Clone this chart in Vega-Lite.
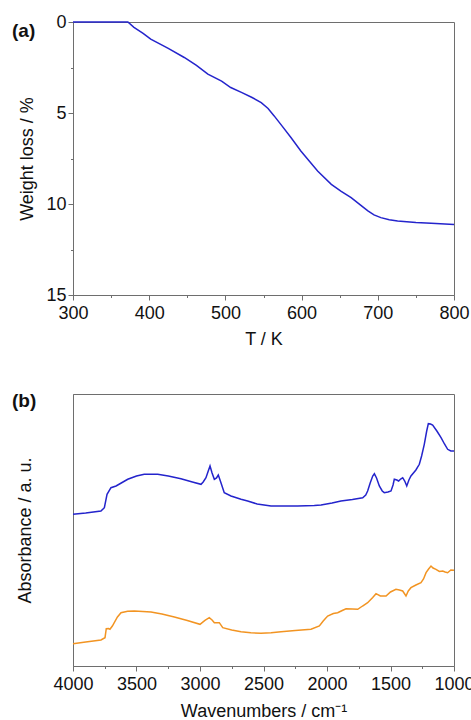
{
  "$schema": "https://vega.github.io/schema/vega-lite/v6.json",
  "padding": {"left": 11, "top": 12, "right": 0, "bottom": 0},
  "spacing": 42,
  "config": {
    "font": "Liberation Sans",
    "view": {"stroke": "#6e6e6e", "strokeWidth": 1},
    "axis": {
      "domainColor": "#6e6e6e",
      "tickColor": "#6e6e6e",
      "labelColor": "#111111",
      "titleColor": "#111111",
      "labelFont": "Liberation Sans",
      "titleFont": "Liberation Sans",
      "labelFontSize": 18,
      "titleFontSize": 18,
      "titleFontWeight": "normal",
      "grid": false,
      "labelFlush": false,
      "labelOverlap": false
    },
    "title": {"font": "Liberation Sans", "fontSize": 19, "fontWeight": "bold", "anchor": "start", "frame": "group", "baseline": "middle", "color": "#111111"}
  },
  "datasets": {
    "tga": [
      {"T": 300, "w": 0}, {"T": 340, "w": 0}, {"T": 372, "w": 0}, {"T": 380, "w": 0.29},
      {"T": 392, "w": 0.62}, {"T": 402, "w": 0.94}, {"T": 425, "w": 1.45}, {"T": 446, "w": 1.95},
      {"T": 462, "w": 2.38}, {"T": 477, "w": 2.86}, {"T": 495, "w": 3.25}, {"T": 507, "w": 3.6},
      {"T": 521, "w": 3.87}, {"T": 535, "w": 4.15}, {"T": 547, "w": 4.43}, {"T": 556, "w": 4.75},
      {"T": 564, "w": 5.16}, {"T": 575, "w": 5.75}, {"T": 586, "w": 6.35}, {"T": 599, "w": 7.09},
      {"T": 610, "w": 7.64}, {"T": 621, "w": 8.19}, {"T": 639, "w": 8.92}, {"T": 652, "w": 9.3},
      {"T": 665, "w": 9.65}, {"T": 677, "w": 10.05}, {"T": 687, "w": 10.38}, {"T": 695, "w": 10.6},
      {"T": 704, "w": 10.75}, {"T": 715, "w": 10.86}, {"T": 726, "w": 10.93}, {"T": 750, "w": 11.02},
      {"T": 770, "w": 11.06}, {"T": 800, "w": 11.12}
    ],
    "ir": [
      {"s": "blue", "wn": 4000, "a": 151.7}, {"s": "blue", "wn": 3900, "a": 153}, {"s": "blue", "wn": 3780, "a": 155},
      {"s": "blue", "wn": 3753, "a": 158.3}, {"s": "blue", "wn": 3732, "a": 171.7}, {"s": "blue", "wn": 3701, "a": 178.3},
      {"s": "blue", "wn": 3661, "a": 180}, {"s": "blue", "wn": 3620, "a": 183}, {"s": "blue", "wn": 3569, "a": 186.7},
      {"s": "blue", "wn": 3500, "a": 190}, {"s": "blue", "wn": 3439, "a": 191.7}, {"s": "blue", "wn": 3333, "a": 191.7},
      {"s": "blue", "wn": 3250, "a": 190}, {"s": "blue", "wn": 3150, "a": 187.3}, {"s": "blue", "wn": 3060, "a": 184},
      {"s": "blue", "wn": 2992, "a": 181.7}, {"s": "blue", "wn": 2975, "a": 184}, {"s": "blue", "wn": 2953, "a": 188.3},
      {"s": "blue", "wn": 2935, "a": 195}, {"s": "blue", "wn": 2921, "a": 200}, {"s": "blue", "wn": 2905, "a": 193},
      {"s": "blue", "wn": 2887, "a": 186.7}, {"s": "blue", "wn": 2870, "a": 188}, {"s": "blue", "wn": 2856, "a": 191},
      {"s": "blue", "wn": 2845, "a": 187}, {"s": "blue", "wn": 2835, "a": 183.3}, {"s": "blue", "wn": 2809, "a": 173.3},
      {"s": "blue", "wn": 2756, "a": 170}, {"s": "blue", "wn": 2677, "a": 166.7}, {"s": "blue", "wn": 2625, "a": 165},
      {"s": "blue", "wn": 2550, "a": 162}, {"s": "blue", "wn": 2441, "a": 160}, {"s": "blue", "wn": 2231, "a": 160},
      {"s": "blue", "wn": 2100, "a": 160.5}, {"s": "blue", "wn": 2047, "a": 161}, {"s": "blue", "wn": 1960, "a": 163},
      {"s": "blue", "wn": 1890, "a": 165}, {"s": "blue", "wn": 1800, "a": 166.5}, {"s": "blue", "wn": 1719, "a": 168.3},
      {"s": "blue", "wn": 1695, "a": 171}, {"s": "blue", "wn": 1680, "a": 175}, {"s": "blue", "wn": 1660, "a": 183},
      {"s": "blue", "wn": 1640, "a": 190}, {"s": "blue", "wn": 1627, "a": 192.3}, {"s": "blue", "wn": 1610, "a": 188},
      {"s": "blue", "wn": 1588, "a": 180}, {"s": "blue", "wn": 1565, "a": 175}, {"s": "blue", "wn": 1549, "a": 173.3},
      {"s": "blue", "wn": 1520, "a": 174}, {"s": "blue", "wn": 1496, "a": 175}, {"s": "blue", "wn": 1480, "a": 181},
      {"s": "blue", "wn": 1470, "a": 186.7}, {"s": "blue", "wn": 1450, "a": 186}, {"s": "blue", "wn": 1436, "a": 185},
      {"s": "blue", "wn": 1420, "a": 187}, {"s": "blue", "wn": 1404, "a": 188.3}, {"s": "blue", "wn": 1388, "a": 185},
      {"s": "blue", "wn": 1372, "a": 180}, {"s": "blue", "wn": 1355, "a": 186}, {"s": "blue", "wn": 1339, "a": 190},
      {"s": "blue", "wn": 1300, "a": 196}, {"s": "blue", "wn": 1273, "a": 201.7}, {"s": "blue", "wn": 1255, "a": 210},
      {"s": "blue", "wn": 1234, "a": 221.7}, {"s": "blue", "wn": 1215, "a": 235}, {"s": "blue", "wn": 1202, "a": 242.3},
      {"s": "blue", "wn": 1185, "a": 242}, {"s": "blue", "wn": 1168, "a": 241}, {"s": "blue", "wn": 1135, "a": 235},
      {"s": "blue", "wn": 1102, "a": 228.3}, {"s": "blue", "wn": 1075, "a": 222}, {"s": "blue", "wn": 1050, "a": 216.7},
      {"s": "blue", "wn": 1025, "a": 215}, {"s": "blue", "wn": 1000, "a": 215},
      {"s": "orange", "wn": 4000, "a": 22.3}, {"s": "orange", "wn": 3900, "a": 24}, {"s": "orange", "wn": 3780, "a": 26},
      {"s": "orange", "wn": 3748, "a": 28.3}, {"s": "orange", "wn": 3738, "a": 37.3}, {"s": "orange", "wn": 3720, "a": 37.5},
      {"s": "orange", "wn": 3709, "a": 36.7}, {"s": "orange", "wn": 3690, "a": 40}, {"s": "orange", "wn": 3675, "a": 43.3},
      {"s": "orange", "wn": 3650, "a": 49}, {"s": "orange", "wn": 3622, "a": 53.3}, {"s": "orange", "wn": 3570, "a": 54.7},
      {"s": "orange", "wn": 3517, "a": 55}, {"s": "orange", "wn": 3450, "a": 54.5}, {"s": "orange", "wn": 3386, "a": 54},
      {"s": "orange", "wn": 3300, "a": 52}, {"s": "orange", "wn": 3202, "a": 49}, {"s": "orange", "wn": 3100, "a": 45.5},
      {"s": "orange", "wn": 3000, "a": 41.7}, {"s": "orange", "wn": 2961, "a": 45.7}, {"s": "orange", "wn": 2927, "a": 48.3},
      {"s": "orange", "wn": 2905, "a": 46}, {"s": "orange", "wn": 2887, "a": 43.3}, {"s": "orange", "wn": 2848, "a": 43.3},
      {"s": "orange", "wn": 2821, "a": 38.3}, {"s": "orange", "wn": 2750, "a": 36}, {"s": "orange", "wn": 2677, "a": 34.3},
      {"s": "orange", "wn": 2600, "a": 33.2}, {"s": "orange", "wn": 2520, "a": 32.7}, {"s": "orange", "wn": 2440, "a": 33.2},
      {"s": "orange", "wn": 2362, "a": 34.3}, {"s": "orange", "wn": 2250, "a": 35.5}, {"s": "orange", "wn": 2126, "a": 36.7},
      {"s": "orange", "wn": 2060, "a": 40}, {"s": "orange", "wn": 2030, "a": 45}, {"s": "orange", "wn": 1995, "a": 50},
      {"s": "orange", "wn": 1950, "a": 52.5}, {"s": "orange", "wn": 1916, "a": 53.3}, {"s": "orange", "wn": 1880, "a": 55.5},
      {"s": "orange", "wn": 1850, "a": 57.3}, {"s": "orange", "wn": 1800, "a": 57}, {"s": "orange", "wn": 1758, "a": 56.7},
      {"s": "orange", "wn": 1720, "a": 60}, {"s": "orange", "wn": 1680, "a": 63.3}, {"s": "orange", "wn": 1640, "a": 68.5},
      {"s": "orange", "wn": 1614, "a": 72.3}, {"s": "orange", "wn": 1580, "a": 70}, {"s": "orange", "wn": 1535, "a": 70},
      {"s": "orange", "wn": 1500, "a": 74}, {"s": "orange", "wn": 1457, "a": 76.7}, {"s": "orange", "wn": 1430, "a": 76},
      {"s": "orange", "wn": 1404, "a": 75}, {"s": "orange", "wn": 1378, "a": 70}, {"s": "orange", "wn": 1360, "a": 75},
      {"s": "orange", "wn": 1339, "a": 78.3}, {"s": "orange", "wn": 1300, "a": 81}, {"s": "orange", "wn": 1260, "a": 83.3},
      {"s": "orange", "wn": 1240, "a": 87}, {"s": "orange", "wn": 1220, "a": 93.3}, {"s": "orange", "wn": 1200, "a": 97},
      {"s": "orange", "wn": 1181, "a": 100}, {"s": "orange", "wn": 1165, "a": 98}, {"s": "orange", "wn": 1142, "a": 96.7},
      {"s": "orange", "wn": 1115, "a": 94.5}, {"s": "orange", "wn": 1089, "a": 95}, {"s": "orange", "wn": 1070, "a": 94},
      {"s": "orange", "wn": 1050, "a": 93.3}, {"s": "orange", "wn": 1025, "a": 96}, {"s": "orange", "wn": 1000, "a": 95.7}
    ]
  },
  "vconcat": [
    {
      "width": 381,
      "height": 273,
      "title": {"text": "(a)", "dx": -61, "offset": -28},
      "data": {"name": "tga"},
      "mark": {"type": "line", "color": "#2424cc", "strokeWidth": 1.5},
      "encoding": {
        "x": {
          "field": "T", "type": "quantitative",
          "scale": {"domain": [300, 800], "nice": false, "zero": false},
          "axis": {
            "title": "T / K",
            "values": [300, 350, 400, 450, 500, 550, 600, 650, 700, 750, 800],
            "labelExpr": "datum.value % 100 === 0 ? datum.label : ''",
            "tickSize": {"condition": {"test": "datum.value % 100 === 0", "value": 5}, "value": 2.5},
            "labelPadding": 4,
            "titlePadding": 8
          }
        },
        "y": {
          "field": "w", "type": "quantitative",
          "scale": {"domain": [0, 15], "nice": false, "reverse": true},
          "axis": {
            "title": "Weight loss / %",
            "values": [0, 2.5, 5, 7.5, 10, 12.5, 15],
            "labelExpr": "datum.value % 5 === 0 ? datum.label : ''",
            "tickSize": {"condition": {"test": "datum.value % 5 === 0", "value": 5}, "value": 2.5},
            "labelPadding": 2,
            "titlePadding": 9
          }
        }
      }
    },
    {
      "width": 381,
      "height": 272,
      "title": {"text": "(b)", "dx": -61, "offset": -17},
      "data": {"name": "ir"},
      "mark": {"type": "line", "strokeWidth": 1.5},
      "encoding": {
        "x": {
          "field": "wn", "type": "quantitative",
          "scale": {"domain": [1000, 4000], "nice": false, "zero": false, "reverse": true},
          "axis": {
            "title": "Wavenumbers / cm⁻¹",
            "values": [1000, 1250, 1500, 1750, 2000, 2250, 2500, 2750, 3000, 3250, 3500, 3750, 4000],
            "labelExpr": "datum.value % 500 === 0 ? datum.label : ''",
            "tickSize": {"condition": {"test": "datum.value % 500 === 0", "value": 5}, "value": 2.5},
            "format": "d",
            "labelPadding": 4,
            "titlePadding": 9
          }
        },
        "y": {
          "field": "a", "type": "quantitative",
          "scale": {"domain": [0, 272], "nice": false},
          "axis": {"title": "Absorbance / a. u.", "labels": false, "ticks": false, "titlePadding": 39}
        },
        "color": {
          "field": "s", "type": "nominal",
          "scale": {"domain": ["blue", "orange"], "range": ["#2424cc", "#f29422"]},
          "legend": null
        }
      }
    }
  ]
}
